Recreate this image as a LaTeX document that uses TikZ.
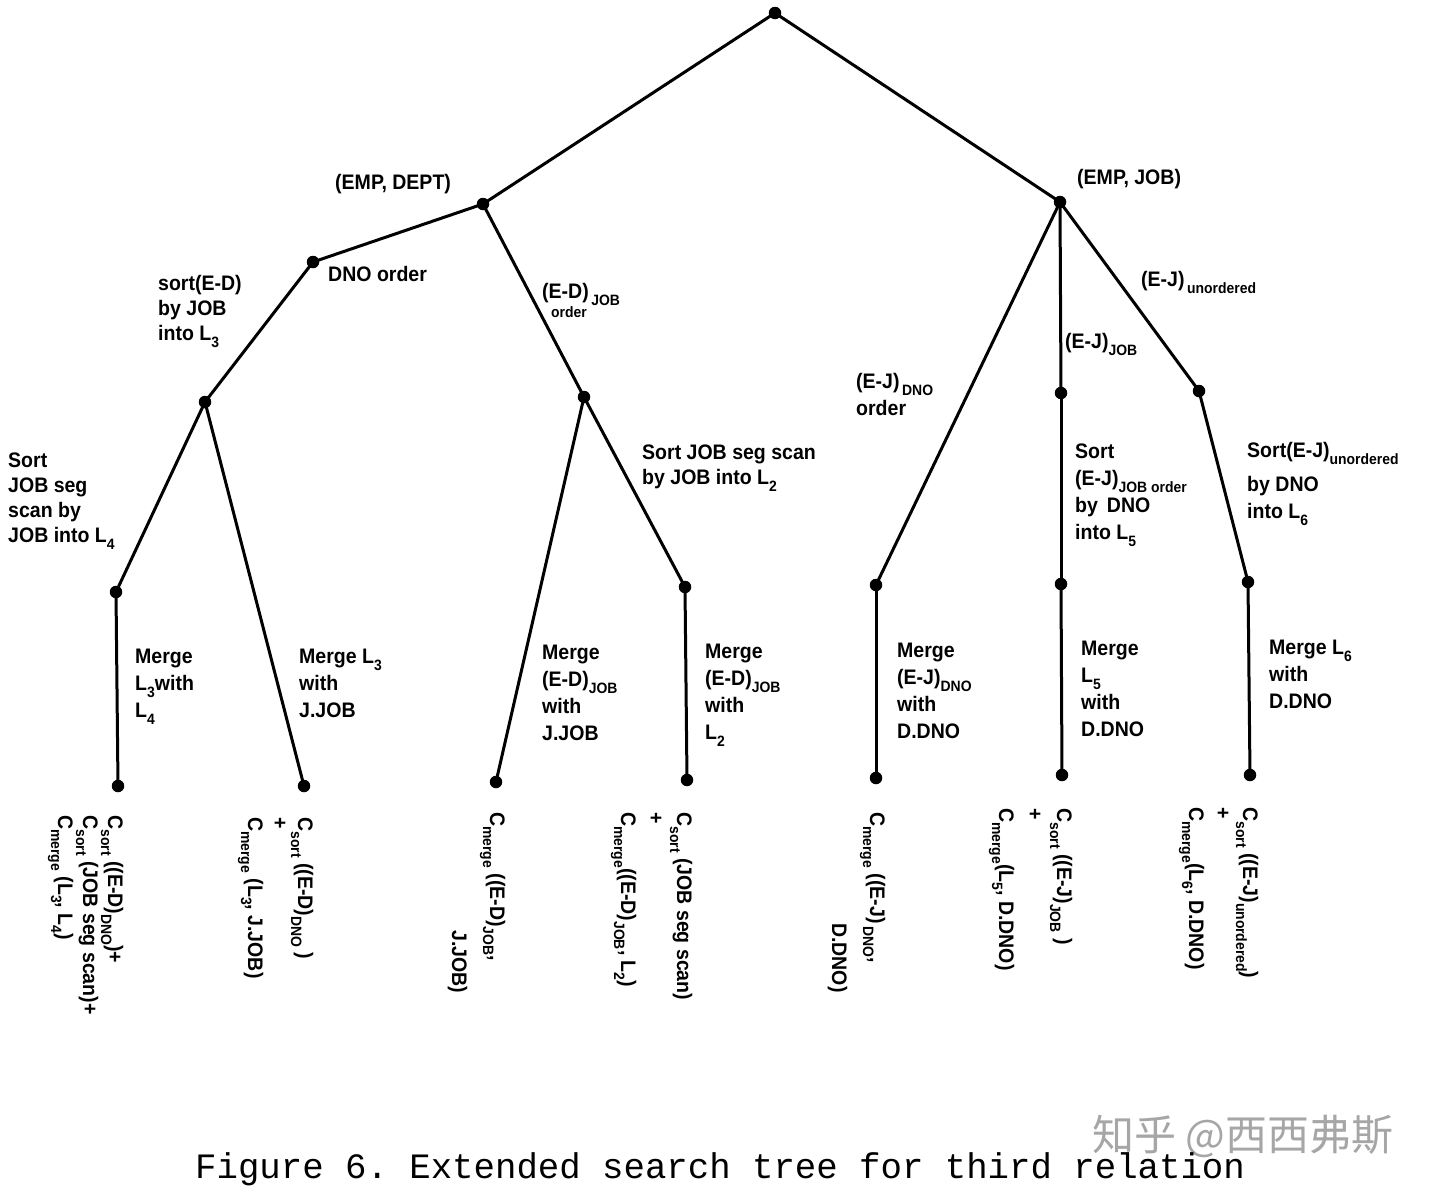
\documentclass[tikz,border=0pt]{standalone}
\usepackage{fontspec}
\setmainfont{Liberation Sans}[BoldFeatures={FakeStretch=0.93}]
\setmonofont{Liberation Mono}
\newfontfamily\cjk{Noto Sans CJK SC}
\newcommand\lo[1]{\raisebox{-7pt}{\fontsize{15}{15}\selectfont #1}}
\newcommand\tl[1]{\begin{tabular}[t]{@{}l@{}}#1\end{tabular}}
\begin{document}
\begin{tikzpicture}[x=1pt,y=-1pt,
  dot/.style={circle,fill=black,inner sep=0pt,minimum size=12.5pt},
  edge/.style={line width=3pt},
  lab/.style={inner sep=0pt,anchor=base west,font=\bfseries\fontsize{21}{25}\selectfont},
  mlab/.style={lab,font=\bfseries\fontsize{21}{27}\selectfont},
  rot/.style={inner sep=0pt,anchor=base west,rotate=-90}]
\useasboundingbox (0,0) rectangle (1440,1195);
\fill[white] (0,0) rectangle (1440,1195);
% tree nodes
\node[dot] (r) at (775,13) {};
\node[dot] (ed) at (483,204) {};
\node[dot] (ej) at (1060,202) {};
\node[dot] (dno) at (313,262) {};
\node[dot] (a) at (205,402) {};
\node[dot] (b) at (584,397) {};
\node[dot] (a1) at (116,592) {};
\node[dot] (a1l) at (118,786) {};
\node[dot] (a2l) at (304,786) {};
\node[dot] (b1l) at (496,782) {};
\node[dot] (b2) at (685,587) {};
\node[dot] (b2l) at (687,780) {};
\node[dot] (c1) at (876,585) {};
\node[dot] (c1l) at (876,778) {};
\node[dot] (c2) at (1061,393) {};
\node[dot] (c2m) at (1061,584) {};
\node[dot] (c2l) at (1062,775) {};
\node[dot] (c3) at (1199,391) {};
\node[dot] (c3m) at (1248,582) {};
\node[dot] (c3l) at (1250,775) {};
% edges
\foreach \p/\q in {r/ed,r/ej,ed/dno,dno/a,ed/b,a/a1,a1/a1l,a/a2l,b/b1l,b/b2,b2/b2l,
  ej/c1,c1/c1l,ej/c2,c2/c2m,c2m/c2l,ej/c3,c3/c3m,c3m/c3l}
  \draw[edge] (\p.center) -- (\q.center);
% edge labels
\node[lab] (l1) at (335,189) {(EMP, DEPT)};
\node[lab] (l2) at (1077,184) {(EMP, JOB)};
\node[lab] (l3) at (328,281) {DNO order};
\node[lab] (l4) at (158,290) {\tl{sort(E-D)\\by JOB\\into L\lo{3}}};
\node[lab] (l5) at (542,298) {\tl{(E-D)\lo{\,JOB}\\[-6pt]\hspace{9pt}{\fontsize{15}{15}\selectfont order}}};
\node[lab] (l6) at (8,467) {\tl{Sort\\JOB seg\\scan by\\JOB into L\lo{4}}};
\node[lab] (l7) at (642,459) {\tl{Sort JOB seg scan\\by JOB into L\lo{2}}};
\node[lab] (l8) at (856,388) {\tl{(E-J)\lo{\,DNO}\\[2pt]order}};
\node[lab] (l9) at (1065,348) {(E-J)\lo{JOB}};
\node[lab] (l10) at (1141,286) {(E-J)\lo{\,unordered}};
\node[lab,font=\bfseries\fontsize{21}{27}\selectfont] (l11) at (1075,458) {\tl{Sort\\(E-J)\lo{JOB order}\\by\, DNO\\into L\lo{5}}};
\node[lab,font=\bfseries\fontsize{21}{27}\selectfont] (l12) at (1247,457) {\tl{Sort(E-J)\lo{unordered}\\[7pt]by DNO\\into L\lo{6}}};
\node[mlab] (m1) at (135,663) {\tl{Merge\\L\lo{3}with\\L\lo{4}}};
\node[mlab] (m2) at (299,663) {\tl{Merge L\lo{3}\\with\\J.JOB}};
\node[mlab] (m3) at (542,659) {\tl{Merge\\(E-D)\lo{JOB}\\with\\J.JOB}};
\node[mlab] (m4) at (705,658) {\tl{Merge\\(E-D)\lo{JOB}\\with\\L\lo{2}}};
\node[mlab] (m5) at (897,657) {\tl{Merge\\(E-J)\lo{DNO}\\with\\D.DNO}};
\node[mlab] (m6) at (1081,655) {\tl{Merge\\L\lo{5}\\with\\D.DNO}};
\node[mlab] (m7) at (1269,654) {\tl{Merge L\lo{6}\\with\\D.DNO}};
% cost formulas (rotated)
\node[rot,font=\bfseries\fontsize{21}{25}\selectfont] (f1) at (108,815) {\tl{C\lo{sort} ((E-D)\lo{DNO})+\\C\lo{sort} (JOB seg scan)+\\C\lo{merge} (L\lo{3}, L\lo{4})}};
\node[rot,font=\bfseries\fontsize{21}{25}\selectfont] (f2) at (298,817) {\tl{C\lo{sort} ((E-D)\lo{DNO} )\\+\\C\lo{merge} (L\lo{3}, J.JOB)}};
\node[rot,font=\bfseries\fontsize{21}{38}\selectfont] (f3) at (490,812) {\tl{C\lo{merge} ((E-D)\lo{JOB},\\\hspace{118pt}J.JOB)}};
\node[rot,font=\bfseries\fontsize{21}{28}\selectfont] (f4) at (677,812) {\tl{C\lo{sort} (JOB seg scan)\\+\\C\lo{merge}((E-D)\lo{JOB}, L\lo{2})}};
\node[rot,font=\bfseries\fontsize{21}{38}\selectfont] (f5) at (870,812) {\tl{C\lo{merge} ((E-J)\lo{\,DNO},\\\hspace{111pt}D.DNO)}};
\node[rot,font=\bfseries\fontsize{21}{29}\selectfont] (f6) at (1057,808) {\tl{C\lo{sort} ((E-J)\lo{JOB} )\\+\\C\lo{merge}(L\lo{5}, D.DNO)}};
\node[rot,font=\bfseries\fontsize{21}{27}\selectfont] (f7) at (1243,807) {\tl{C\lo{sort} ((E-J)\lo{unordered})\\+\\C\lo{merge}(L\lo{6}, D.DNO)}};
% watermark and caption
\node[inner sep=0pt,anchor=base west,text=black!35,font=\cjk\fontsize{42}{42}\selectfont] (wm) at (1092,1150) {知乎 @西西弗斯};
\node[inner sep=0pt,anchor=base west,font=\ttfamily\fontsize{35.7}{36}\selectfont] (cap) at (195,1178) {Figure 6. Extended search tree for third relation};
\end{tikzpicture}
\end{document}
